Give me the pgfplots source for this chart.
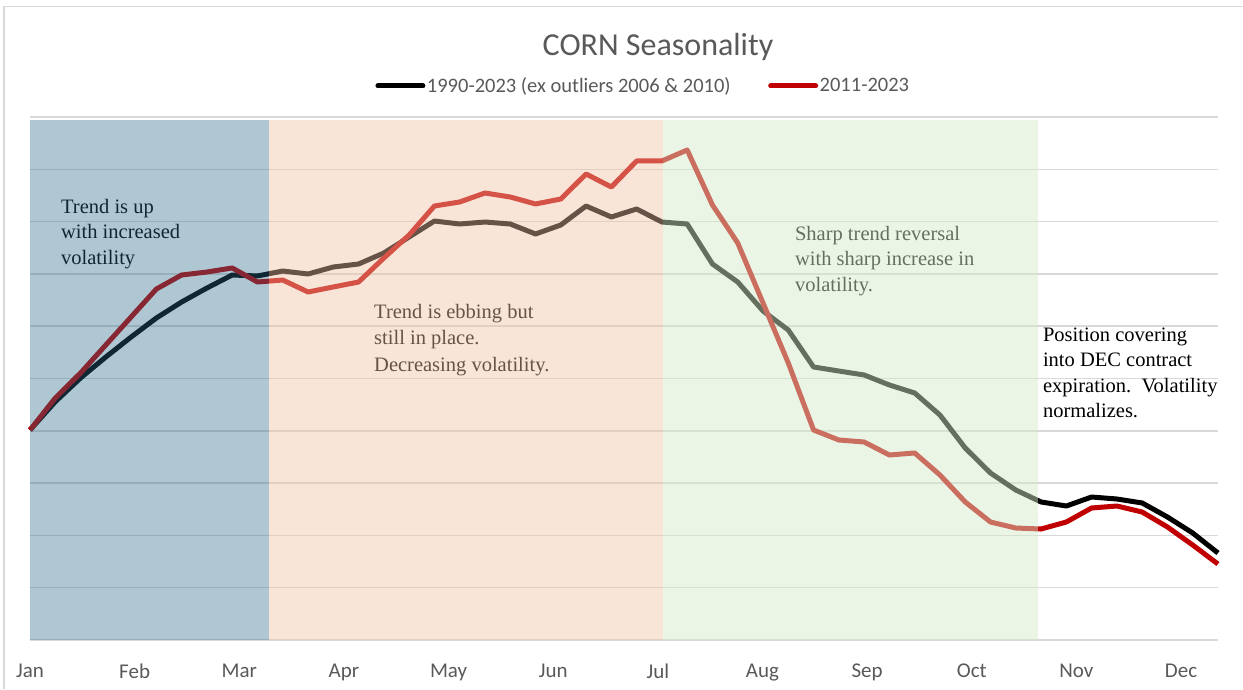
\documentclass[border=0pt]{standalone}
\usepackage{fontspec}
\setmainfont{Liberation Serif}
\newfontfamily\carlito{Carlito}
\usepackage{pgfplots}
\pgfplotsset{compat=1.18}
\usepackage{pgfplotstable}
\definecolor{gridgray}{RGB}{217,217,217}
\definecolor{txtgray}{RGB}{89,89,89}
\definecolor{cornred}{RGB}{192,0,0}
\definecolor{ovblue}{RGB}{40,105,137}
\definecolor{ovpeach}{RGB}{239,194,164}
\definecolor{ovgreen}{RGB}{213,234,201}

\pgfplotstableread{
k a b
0 4.015 4.015
1 4.556 4.627
2 5.010 5.105
3 5.411 5.641
4 5.793 6.176
5 6.157 6.711
6 6.463 6.979
7 6.730 7.036
8 6.979 7.113
9 6.960 6.845
10 7.055 6.883
11 6.998 6.654
12 7.132 6.750
13 7.189 6.845
14 7.400 7.304
15 7.706 7.744
16 8.011 8.298
17 7.954 8.375
18 7.992 8.547
19 7.954 8.470
20 7.763 8.337
21 7.935 8.432
22 8.298 8.910
23 8.088 8.662
24 8.241 9.159
25 7.992 9.159
26 7.954 9.369
27 7.189 8.317
28 6.845 7.591
29 6.291 6.444
30 5.927 5.296
31 5.220 4.015
32 5.143 3.824
33 5.067 3.786
34 4.876 3.537
35 4.723 3.576
36 4.302 3.155
37 3.671 2.639
38 3.193 2.256
39 2.868 2.141
40 2.639 2.122
41 2.562 2.256
42 2.734 2.524
43 2.696 2.562
44 2.620 2.447
45 2.352 2.161
46 2.046 1.816
47 1.663 1.453
}\corndata

\begin{document}
\begin{tikzpicture}
\useasboundingbox (0,0) rectangle (1243pt,689pt);
\draw[gridgray, line width=1.3pt] (4pt,0pt) -- (4pt,682.5pt) -- (1243pt,682.5pt);
\begin{axis}[
  at={(30pt,49pt)}, anchor=south west,
  width=1188pt, height=523pt, scale only axis,
  xmin=0, xmax=47, ymin=0, ymax=10,
  clip=false,
  axis line style={draw=none},
  major tick length=0pt,
  ytick={0,1,...,10}, yticklabels={},
  ymajorgrids, grid style={gridgray, line width=1.4pt},
  xtick={0,4.14,8.28,12.42,16.56,20.7,24.84,28.98,33.12,37.26,41.4,45.54},
  xticklabels={Jan,Feb,Mar,Apr,May,Jun,Jul,Aug,Sep,Oct,Nov,Dec},
  xticklabel style={font=\carlito\fontsize{21}{21}\selectfont, text=txtgray, yshift=-20pt},
  legend columns=2,
  legend style={at={(0.516,1.0593)}, anchor=center, draw=none, fill=none,
    font=\carlito\fontsize{20.5}{24}\selectfont, text=txtgray,
    /tikz/every even column/.append style={column sep=36pt},
    nodes={inner sep=1.5pt}},
  legend image code/.code={\draw[#1, line width=5pt, line cap=round] (2.5pt,0pt) -- (47.5pt,0pt);},
]
\addplot[black, line width=5pt, line join=round] table[x=k, y=a] {\corndata};
\addlegendentry{1990-2023 (ex outliers 2006 \& 2010)}
\addplot[cornred, line width=5pt, line join=round] table[x=k, y=b] {\corndata};
\addlegendentry{2011-2023}

\begin{scope}[font=\fontsize{20.5}{25}\selectfont]
\node[anchor=base west, inner sep=0pt] at (axis cs:1.226,8.164) {Trend is up};
\node[anchor=base west, inner sep=0pt] at (axis cs:1.226,7.677) {with increased};
\node[anchor=base west, inner sep=0pt] at (axis cs:1.226,7.189) {volatility};
\node[anchor=base west, inner sep=0pt] at (axis cs:13.61,6.138) {Trend is ebbing but};
\node[anchor=base west, inner sep=0pt] at (axis cs:13.61,5.641) {still in place.};
\node[anchor=base west, inner sep=0pt] at (axis cs:13.61,5.143) {Decreasing volatility.};
\node[anchor=base west, inner sep=0pt] at (axis cs:30.26,7.648) {Sharp trend reversal};
\node[anchor=base west, inner sep=0pt] at (axis cs:30.26,7.170) {with sharp increase in};
\node[anchor=base west, inner sep=0pt] at (axis cs:30.26,6.654) {volatility.};
\node[anchor=base west, inner sep=0pt] at (axis cs:40.07,5.698) {Position covering};
\node[anchor=base west, inner sep=0pt] at (axis cs:40.07,5.220) {into DEC contract};
\node[anchor=base west, inner sep=0pt] at (axis cs:40.07,4.723) {expiration.\ \ Volatility};
\node[anchor=base west, inner sep=0pt] at (axis cs:40.07,4.245) {normalizes.};
\end{scope}

\addplot[draw=none, fill=ovblue, fill opacity=0.373, forget plot] coordinates {(0,0) (9.45,0) (9.45,9.94) (0,9.94)} -- cycle;
\addplot[draw=none, fill=ovpeach, fill opacity=0.427, forget plot] coordinates {(9.45,0) (25.04,0) (25.04,9.94) (9.45,9.94)} -- cycle;
\addplot[draw=none, fill=ovgreen, fill opacity=0.478, forget plot] coordinates {(25.04,0) (39.87,0) (39.87,9.94) (25.04,9.94)} -- cycle;
\end{axis}
\node[anchor=base, font=\carlito\fontsize{32}{32}\selectfont, text=txtgray] at (658pt,633pt) {CORN Seasonality};
\end{tikzpicture}
\end{document}
